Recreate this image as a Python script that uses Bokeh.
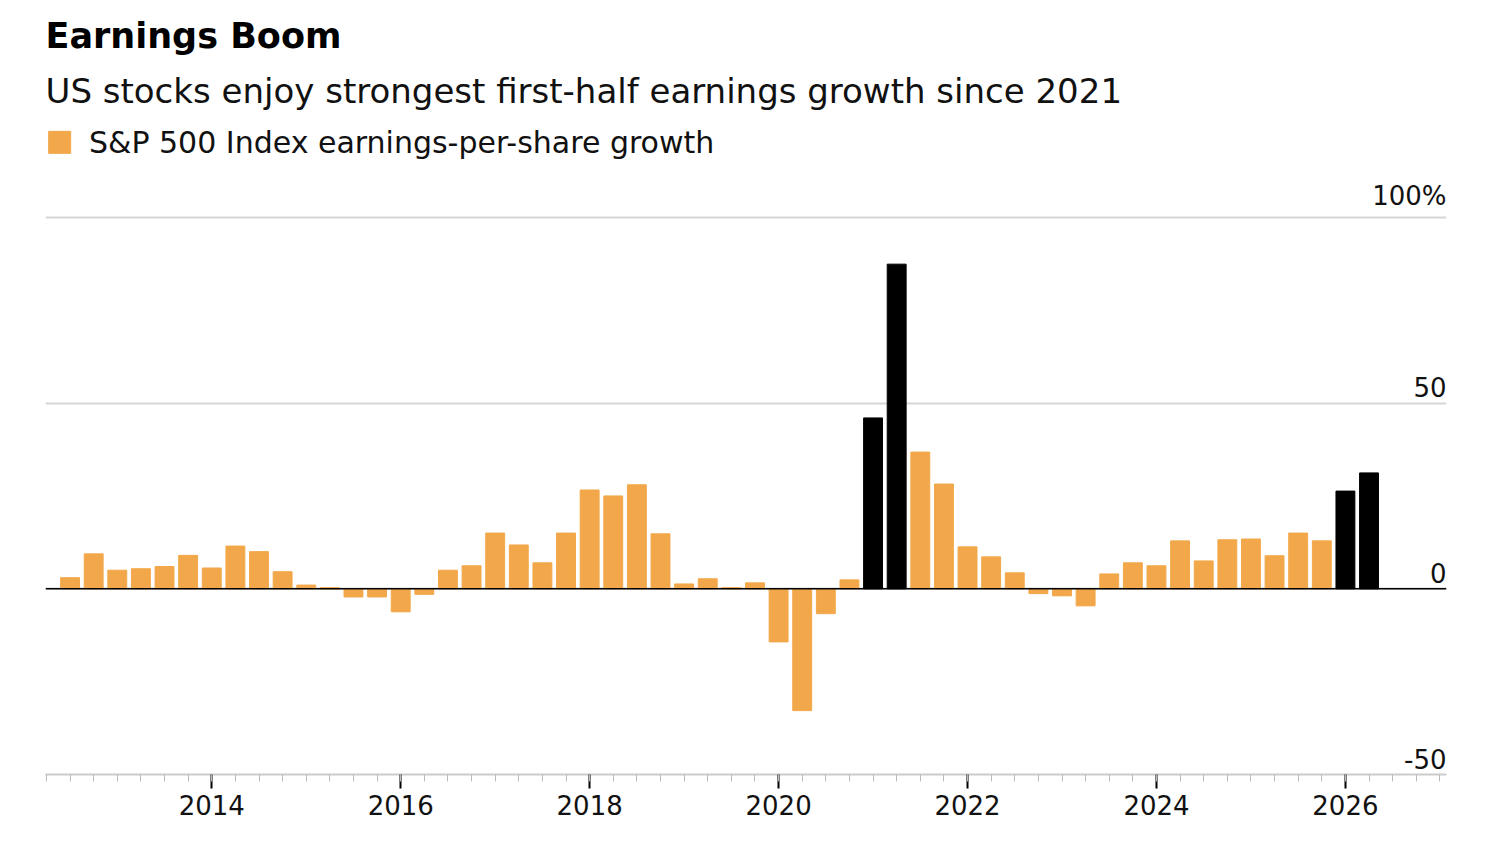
from bokeh.plotting import figure
from bokeh.models import ColumnDataSource, FixedTicker, Span, Title
from bokeh.core.properties import value
from bokeh.embed import file_html
from bokeh.resources import INLINE

# quarterly S&P 500 EPS growth, % (first quarter 2012 Q3)
growth = [3, 9.4, 5, 5.4, 6, 9, 5.6, 11.5, 10, 4.6,
          1, 0.3, -2.2, -2.2, -6.2, -1.5, 5, 6.2, 15, 11.8,
          7, 15, 26.6, 25, 28, 14.8, 1.3, 2.7, 0.3, 1.6,
          -14.3, -32.8, -6.7, 2.4, 46, 87.4, 36.8, 28.2, 11.3, 8.6,
          4.3, -1.3, -1.9, -4.6, 4, 7, 6.2, 12.9, 7.5, 13.2,
          13.4, 8.9, 15, 12.9, 26.3, 31.2]
highlight = [34, 35, 54, 55]
years = [2014, 2016, 2018, 2020, 2022, 2024, 2026]
y_ticks = [-50, 0, 50, 100]
y_labels = ["-50", "0", "50", "100%"]
legend_label = "S&P 500 Index earnings-per-share growth"

FONT = "DejaVu Sans"
ORANGE = "#f2a84a"
x = [2012.5 + 0.25 * i for i in range(len(growth))]
colors = ["black" if i in highlight else ORANGE for i in range(len(growth))]
src = ColumnDataSource(dict(x=x, top=growth, color=colors))

p = figure(frame_width=1401, frame_height=650, output_backend="svg", toolbar_location=None,
           x_range=(2012.24, 2027.07), y_range=(-50, 125),
           min_border_left=45, min_border_right=38, min_border_bottom=50, min_border_top=10)
p.outline_line_color = None
p.background_fill_color = "white"

p.vbar(x="x", top="top", width=0.2, color="color", source=src)

p.yaxis.visible = False
p.yaxis.ticker = FixedTicker(ticks=y_ticks)
p.ygrid.grid_line_color = "#d6d6d6"
p.ygrid.grid_line_width = 2
p.xgrid.grid_line_color = None
p.add_layout(Span(location=0, dimension="width", line_color="black", line_width=1.5))

p.text(x=[2027.07] * 4, y=y_ticks, text=y_labels, text_align="right",
       text_baseline="bottom", y_offset=-6, text_font_size="26px",
       text_font=value(FONT), text_color="#111111")

# legend row drawn inside the top of the frame
p.scatter(x=[2012.39], y=[120.2], marker="square", size=22, color=ORANGE)
p.text(x=[2012.7], y=[120.2], text=[legend_label], text_baseline="middle",
       text_font_size="30px", text_font=value(FONT), text_color="#111111")

p.xaxis.ticker = FixedTicker(ticks=years, minor_ticks=[2012.25 + 0.25 * i for i in range(60)])
p.xaxis.axis_line_color = "#cccccc"
p.xaxis.axis_line_width = 2
p.xaxis.major_tick_line_color = "black"
p.xaxis.major_tick_line_width = 2
p.xaxis.major_tick_out = 14
p.xaxis.major_tick_in = 0
p.xaxis.minor_tick_line_color = "#bbbbbb"
p.xaxis.minor_tick_out = 7
p.xaxis.minor_tick_in = 0
p.xaxis.major_label_text_font_size = "26px"
p.xaxis.major_label_text_font = FONT
p.xaxis.major_label_text_color = "#111111"
p.xaxis.major_label_standoff = 6

p.add_layout(Title(text="US stocks enjoy strongest first-half earnings growth since 2021",
                   text_font_size="34px", text_font=FONT, text_font_style="normal",
                   text_color="#111111", standoff=27), "above")
p.add_layout(Title(text="Earnings Boom", text_font_size="35px", text_font=FONT,
                   text_font_style="bold", text_color="black", standoff=0), "above")
p.add_layout(Title(text=" ", text_font_size="10px", standoff=0), "above")

open("out.html", "w").write(file_html(p, INLINE))
